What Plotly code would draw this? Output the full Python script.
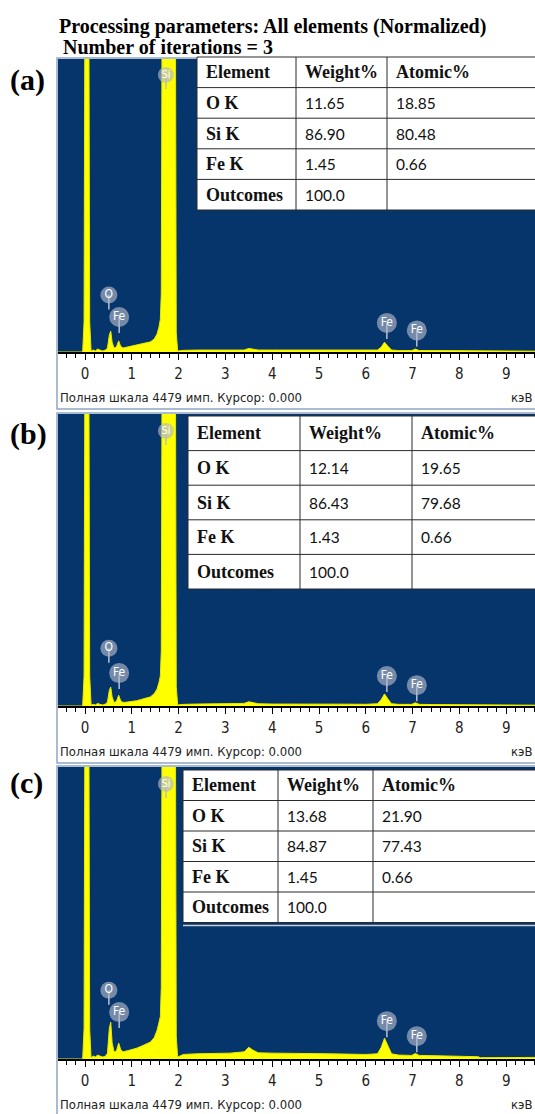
import plotly.graph_objects as go

W, H = 535, 1114
FULL_SCALE = 4479

# ---------------- data ----------------
ENERGY_KEV = [-0.60, -0.05, -0.02, 0.00, 0.08, 0.10, 0.13, 0.18, 0.22, 0.27, 0.32, 0.38,
              0.44, 0.48, 0.52, 0.55, 0.58, 0.62, 0.67, 0.72, 0.76, 0.81, 0.90, 1.00,
              1.10, 1.20, 1.30, 1.40, 1.48, 1.54, 1.58, 1.61, 1.63, 1.65, 1.93, 1.95,
              1.98, 2.10, 2.40, 2.80, 3.10, 3.40, 3.50, 3.58, 3.70, 4.00, 4.40, 4.80,
              5.20, 5.60, 6.00, 6.25, 6.33, 6.40, 6.47, 6.55, 6.70, 6.98, 7.06, 7.14,
              7.50, 8.00, 8.40, 8.45, 9.00, 9.80]

COUNTS_A = [0, 0, 460, 6000, 6000, 460, 15, 30, 15, 45, 30, 15,
            30, 60, 260, 320, 150, 60, 75, 170, 90, 60, 75, 90,
            105, 120, 140, 155, 200, 275, 380, 500, 900, 6000, 6000, 300,
            15, 25, 30, 30, 30, 30, 55, 45, 30, 30, 30, 30,
            28, 25, 25, 30, 75, 150, 90, 30, 22, 22, 45, 22,
            22, 20, 15, 8, 12, 12]

COUNTS_B = [0, 0, 460, 6000, 6000, 460, 15, 25, 15, 40, 25, 15,
            30, 60, 240, 290, 140, 55, 70, 165, 85, 55, 60, 65,
            80, 100, 120, 140, 190, 260, 360, 460, 850, 6000, 6000, 300,
            15, 25, 30, 30, 35, 40, 65, 50, 35, 30, 32, 30,
            30, 28, 26, 35, 100, 185, 110, 35, 25, 25, 50, 25,
            22, 20, 15, 8, 12, 12]

COUNTS_C = [0, 0, 460, 6000, 6000, 460, 20, 45, 30, 60, 45, 30,
            45, 90, 470, 565, 250, 110, 120, 245, 150, 110, 125, 140,
            165, 195, 230, 260, 330, 440, 560, 650, 1100, 6000, 6000, 350,
            30, 70, 80, 85, 90, 110, 180, 140, 95, 90, 90, 85,
            80, 75, 70, 80, 180, 320, 200, 80, 60, 55, 85, 55,
            50, 45, 35, 20, 25, 25]

TICK_KEV = [0, 1, 2, 3, 4, 5, 6, 7, 8, 9]

PEAK_LABELS = ["Si", "O", "Fe", "Fe", "Fe"]
PEAK_LABEL_KEV = [1.73, 0.51, 0.73, 6.45, 7.09]
LABEL_COUNTS_A = [4235, 870, 535, 445, 330]
LABEL_COUNTS_B = [4220, 885, 505, 460, 320]
LABEL_COUNTS_C = [4220, 1055, 720, 580, 350]

TABLE_HEADER = ["Element", "Weight%", "Atomic%"]
TABLE_ELEMENTS = ["O K", "Si K", "Fe K", "Outcomes"]
WEIGHT_A = ["11.65", "86.90", "1.45", "100.0"]
ATOMIC_A = ["18.85", "80.48", "0.66", ""]
WEIGHT_B = ["12.14", "86.43", "1.43", "100.0"]
ATOMIC_B = ["19.65", "79.68", "0.66", ""]
WEIGHT_C = ["13.68", "84.87", "1.45", "100.0"]
ATOMIC_C = ["21.90", "77.43", "0.66", ""]

PANEL_TAGS = ["(a)", "(b)", "(c)"]
TITLE_LINES = ["Processing parameters: All elements (Normalized)",
               "Number of iterations = 3"]
CAPTION_LEFT = "Полная шкала 4479 имп. Курсор: 0.000"
CAPTION_RIGHT = "кэВ"

# ---------------- layout / style ----------------
BLUE = "#06356b"
YELLOW = "#ffff00"
BUBBLE = "rgba(176,184,202,0.93)"
FRAME = "#8ea6c6"
SERIF = "Liberation Serif, Times New Roman, serif"
NARROW = "DejaVu Sans Condensed, Liberation Sans Narrow, Arial Narrow, sans-serif"
NUMFONT = "Lato, Carlito, Calibri, sans-serif"

PLOT_LEFT = 58
KEV0_PX = 85.0
PX_PER_KEV = 46.8
X_RANGE = [(PLOT_LEFT - KEV0_PX) / PX_PER_KEV, (W - KEV0_PX) / PX_PER_KEV]

GEOM = [
    dict(top=59, base=352, tl=197, tt=57, rh=30.6, c2=296, c3=387, tag_y=80),
    dict(top=414, base=706, tl=188, tt=416, rh=34.6, c2=300, c3=412, tag_y=434),
    dict(top=767, base=1059, tl=183, tt=770, rh=30.5, c2=278, c3=373, tag_y=783),
]

SERIES = [
    (COUNTS_A, LABEL_COUNTS_A, WEIGHT_A, ATOMIC_A),
    (COUNTS_B, LABEL_COUNTS_B, WEIGHT_B, ATOMIC_B),
    (COUNTS_C, LABEL_COUNTS_C, WEIGHT_C, ATOMIC_C),
]

BUBBLE_SIZE = [16, 17, 20, 20, 20]
BUBBLE_FONT = [11, 12, 12, 12, 12]


def px_x(x):
    return x / W


def px_y(y):
    return 1 - y / H


fig = go.Figure()
shapes = []
annotations = []

for i, (g, (counts, lab_counts, weight, atomic)) in enumerate(zip(GEOM, SERIES)):
    n = i + 1
    xa = "x" if n == 1 else f"x{n}"
    ya = "y" if n == 1 else f"y{n}"
    cpp = FULL_SCALE / (g["base"] - g["top"])

    fig.add_trace(go.Scatter(
        x=ENERGY_KEV, y=counts, mode="lines", fill="tozeroy",
        fillcolor=YELLOW, line=dict(color="#e8e800", width=1),
        xaxis=xa, yaxis=ya, hoverinfo="skip", showlegend=False))

    # stems below label bubbles
    sx, sy = [], []
    for k, kev in enumerate(PEAK_LABEL_KEV):
        stem = (BUBBLE_SIZE[k] / 2 + 6) * cpp
        sx += [kev, kev, None]
        sy += [lab_counts[k], lab_counts[k] - stem, None]
    fig.add_trace(go.Scatter(
        x=sx, y=sy, mode="lines", line=dict(color="#b8c0d2", width=1.5),
        xaxis=xa, yaxis=ya, hoverinfo="skip", showlegend=False))

    fig.add_trace(go.Scatter(
        x=PEAK_LABEL_KEV, y=lab_counts, mode="markers+text", text=PEAK_LABELS,
        textposition="middle center",
        textfont=dict(color="white", size=BUBBLE_FONT, family="Liberation Sans Narrow, DejaVu Sans Condensed, Arial"),
        marker=dict(size=BUBBLE_SIZE, color=BUBBLE, line=dict(width=0)),
        cliponaxis=False, xaxis=xa, yaxis=ya, hoverinfo="skip", showlegend=False))

    xkey = "xaxis" if n == 1 else f"xaxis{n}"
    ykey = "yaxis" if n == 1 else f"yaxis{n}"
    fig.update_layout(**{
        xkey: dict(domain=[px_x(PLOT_LEFT), 1], anchor=ya, range=X_RANGE,
                   showline=True, linecolor="black", linewidth=1.5,
                   ticks="outside", ticklen=6, tickwidth=1, tickcolor="black",
                   tickvals=TICK_KEV, ticktext=[str(t) for t in TICK_KEV],
                   tickfont=dict(family=NARROW, size=15, color="#222"),
                   ticklabelstandoff=1,
                   showgrid=False, zeroline=False, fixedrange=True,
                   minor=dict(dtick=0.2, tick0=0, ticks="outside", ticklen=4,
                              tickcolor="black", tickwidth=1, showgrid=False)),
        ykey: dict(domain=[px_y(g["base"]), px_y(g["top"])], anchor=xa,
                   range=[0, FULL_SCALE], visible=False, fixedrange=True),
    })

    # panel frame
    shapes.append(dict(type="rect", xref="paper", yref="paper",
                       x0=px_x(57), x1=px_x(W + 5), y0=px_y(g["base"] + 57),
                       y1=px_y(g["top"] - 1), line=dict(color=FRAME, width=1.5),
                       fillcolor="rgba(0,0,0,0)", layer="above"))

    # table
    tl, tt, rh = g["tl"], g["tt"], g["rh"]
    tb = tt + 5 * rh
    shapes.append(dict(type="rect", xref="paper", yref="paper",
                       x0=px_x(tl), x1=px_x(W + 5), y0=px_y(tb), y1=px_y(tt),
                       line=dict(color="#2a2a2a", width=1), fillcolor="white",
                       layer="above"))
    for r in range(1, 5):
        yy = tt + r * rh
        shapes.append(dict(type="line", xref="paper", yref="paper",
                           x0=px_x(tl), x1=px_x(W + 5), y0=px_y(yy), y1=px_y(yy),
                           line=dict(color="#2a2a2a", width=1), layer="above"))
    for cx in (g["c2"], g["c3"]):
        shapes.append(dict(type="line", xref="paper", yref="paper",
                           x0=px_x(cx), x1=px_x(cx), y0=px_y(tb), y1=px_y(tt),
                           line=dict(color="#2a2a2a", width=1), layer="above"))
    if n == 3:
        shapes.append(dict(type="line", xref="paper", yref="paper",
                           x0=px_x(tl), x1=px_x(W + 5), y0=px_y(tb + 3), y1=px_y(tb + 3),
                           line=dict(color="#c8cdd6", width=1.5), layer="above"))
    col_lefts = [tl, g["c2"], g["c3"]]
    rows = [TABLE_HEADER] + [[TABLE_ELEMENTS[r], weight[r], atomic[r]] for r in range(4)]
    for r, row in enumerate(rows):
        yc = tt + (r + 0.5) * rh
        for c, txt in enumerate(row):
            if not txt:
                continue
            bold = (r == 0 or c == 0)
            annotations.append(dict(
                xref="paper", yref="paper", x=px_x(col_lefts[c] + 7), y=px_y(yc),
                xanchor="left", yanchor="middle", showarrow=False,
                text=f"<b>{txt}</b>" if bold else txt,
                font=dict(family=SERIF if bold else NUMFONT,
                          size=18 if bold else 15.5, color="#111")))

    # caption under axis
    annotations.append(dict(xref="paper", yref="paper", x=px_x(PLOT_LEFT),
                            y=px_y(g["base"] + 45), xanchor="left", yanchor="middle",
                            showarrow=False, text=CAPTION_LEFT,
                            font=dict(family=NARROW, size=13, color="#222")))
    annotations.append(dict(xref="paper", yref="paper", x=1, y=px_y(g["base"] + 45),
                            xanchor="right", yanchor="middle", showarrow=False,
                            text=CAPTION_RIGHT,
                            font=dict(family=NARROW, size=13, color="#222")))
    # panel tag
    annotations.append(dict(xref="paper", yref="paper", x=px_x(8), y=px_y(g["tag_y"]),
                            xanchor="left", yanchor="middle", showarrow=False,
                            text=f"<b>{PANEL_TAGS[i]}</b>",
                            font=dict(family=SERIF, size=30, color="black")))

# title lines
annotations.append(dict(xref="paper", yref="paper", x=px_x(57), y=px_y(26),
                        xanchor="left", yanchor="middle", showarrow=False,
                        text=f"<b>{TITLE_LINES[0]}</b>",
                        font=dict(family=SERIF, size=20, color="black")))
annotations.append(dict(xref="paper", yref="paper", x=px_x(61), y=px_y(47),
                        xanchor="left", yanchor="middle", showarrow=False,
                        text=f"<b>{TITLE_LINES[1]}</b>",
                        font=dict(family=SERIF, size=20, color="black")))

fig.update_layout(
    width=W, height=H, autosize=False,
    margin=dict(l=0, r=0, t=0, b=0),
    paper_bgcolor="white", plot_bgcolor=BLUE,
    showlegend=False, shapes=shapes, annotations=annotations,
)

fig.write_html("out.html", config={"displayModeBar": False},
               post_script="document.body.style.margin='0';"
                           "document.body.style.padding='0';"
                           "document.body.style.overflow='hidden';")
